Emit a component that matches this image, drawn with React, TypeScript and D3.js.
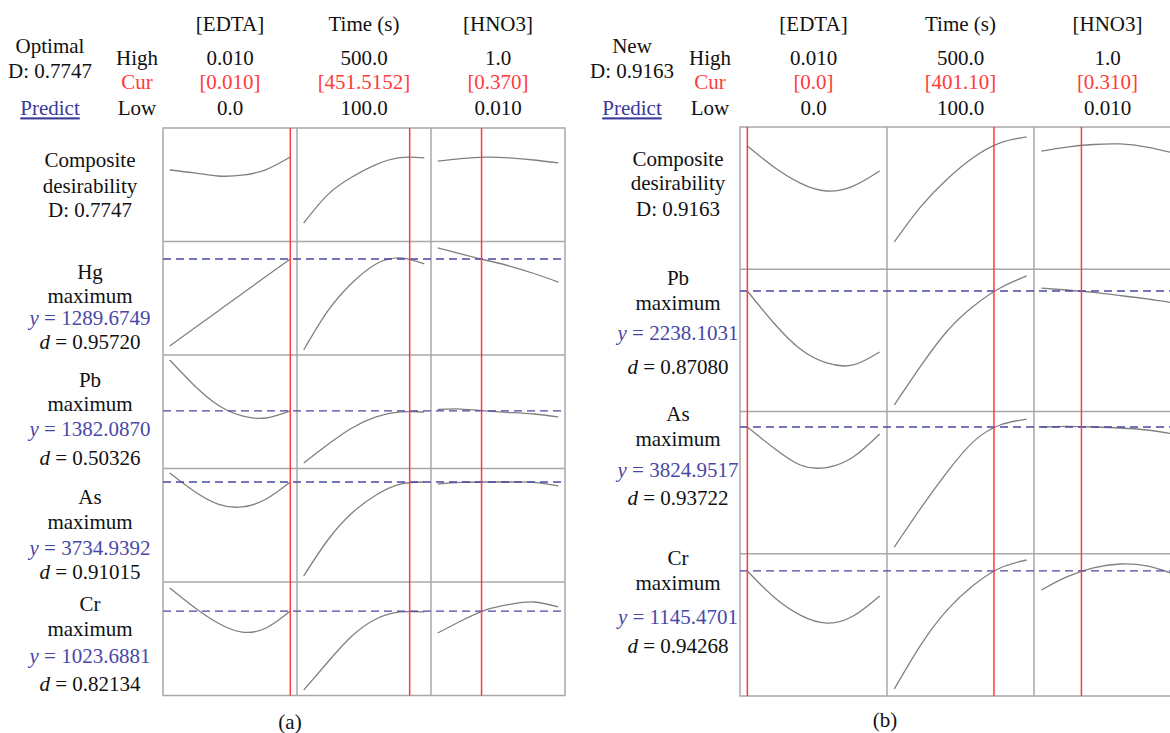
import React from "react";
import * as d3 from "d3";

// factors shared by both optimization plots
const factorNames = ["[EDTA]", "Time (s)", "[HNO3]"];
const highLabels = ["0.010", "500.0", "1.0"];
const lowLabels = ["0.0", "100.0", "0.010"];
const factorRanges = [
  [0, 0.01],
  [100, 500],
  [0.01, 1.0],
];
const factorSteps = [
  [0, 0.002, 0.004, 0.006, 0.008, 0.01],
  [100, 180, 260, 340, 420, 500],
  [0.01, 0.2, 0.4, 0.6, 0.8, 1.0],
];

// (a) optimal setting. curve heights are % of the row height (0 = bottom)
const curA = [0.01, 451.5152, 0.37];
const curLabelsA = ["[0.010]", "[451.5152]", "[0.370]"];
const responsesA = ["Hg", "Pb", "As", "Cr"];
const predictedA = ["1289.6749", "1382.0870", "3734.9392", "1023.6881"];
const desirA = ["0.95720", "0.50326", "0.91015", "0.82134"];
const compositeA = [
  [63.0, 60.4, 57.7, 58.4, 63.4, 74.4],
  [16.3, 41.3, 56.8, 67.8, 73.9, 73.6],
  [70.9, 73.1, 74.4, 73.7, 71.8, 69.2],
];
const hgA = [
  [7.9, 23.3, 38.6, 53.9, 69.3, 84.6],
  [4.4, 38.8, 63.4, 80.2, 85.5, 80.2],
  [94.3, 89.0, 83.7, 78.4, 71.8, 64.3],
];
const pbA = [
  [95.6, 73.6, 55.9, 46.3, 44.5, 50.7],
  [4.8, 21.1, 35.7, 45.4, 49.8, 49.8],
  [52.0, 52.4, 50.7, 49.3, 48.0, 45.4],
];
const asA = [
  [96.0, 80.2, 68.7, 66.1, 73.1, 88.1],
  [5.3, 37.0, 60.8, 76.7, 86.3, 88.1],
  [86.3, 87.7, 88.1, 88.1, 87.7, 84.6],
];
const crA = [
  [94.7, 78.0, 63.9, 55.9, 59.5, 74.4],
  [4.8, 29.5, 52.4, 67.4, 73.6, 73.6],
  [55.1, 65.6, 75.3, 80.2, 82.4, 78.0],
];
const levelsA = [84.6, 50.7, 88.1, 74.4];

// (b) new setting
const curB = [0.0, 401.1, 0.31];
const curLabelsB = ["[0.0]", "[401.10]", "[0.310]"];
const responsesB = ["Pb", "As", "Cr"];
const predictedB = ["2238.1031", "3824.9517", "1145.4701"];
const desirB = ["0.87080", "0.93722", "0.94268"];
const compositeB = [
  [86.6, 71.9, 60.6, 55.0, 58.5, 69.1],
  [19.2, 44.0, 63.5, 78.8, 88.9, 93.0],
  [83.1, 85.9, 87.7, 88.1, 85.9, 81.7],
];
const pbB = [
  [84.7, 62.2, 43.9, 34.1, 32.7, 41.8],
  [4.6, 32.0, 56.6, 74.2, 86.8, 95.3],
  [86.8, 85.4, 83.7, 81.5, 79.1, 76.3],
];
const asB = [
  [89.1, 74.3, 62.4, 60.6, 68.0, 84.2],
  [4.7, 32.0, 57.5, 79.0, 90.5, 94.7],
  [89.1, 89.5, 89.1, 88.4, 87.0, 84.2],
];
const crB = [
  [87.9, 69.6, 56.9, 51.3, 56.2, 70.3],
  [4.9, 35.9, 60.5, 78.0, 90.0, 95.6],
  [74.5, 83.7, 90.0, 92.8, 91.4, 85.8],
];
const levelsB = [84.7, 89.1, 87.9];

const panels = [
  {
    title: "Optimal",
    D: "0.7747",
    cur: curA,
    curLabels: curLabelsA,
    responses: responsesA,
    predicted: predictedA,
    desir: desirA,
    curves: [compositeA, hgA, pbA, asA, crA],
    levels: levelsA,
    tag: "(a)",
    layout: {
      left: 163,
      top: 128,
      colW: 134,
      rowH: 113.5,
      labelX: 90,
      titleX: 50,
      levelX: 137,
      labelYs: [
        [160, 186, 210],
        [272, 296, 318, 342],
        [380, 404, 429, 458],
        [497, 522, 548, 572],
        [604, 629, 656, 684],
      ],
      tagX: 290,
      tagY: 722,
    },
  },
  {
    title: "New",
    D: "0.9163",
    cur: curB,
    curLabels: curLabelsB,
    responses: responsesB,
    predicted: predictedB,
    desir: desirB,
    curves: [compositeB, pbB, asB, crB],
    levels: levelsB,
    tag: "(b)",
    layout: {
      left: 740,
      top: 127,
      colW: 147,
      rowH: 142.25,
      labelX: 678,
      titleX: 632,
      levelX: 710,
      labelYs: [
        [159, 183, 209],
        [278, 303, 333, 367],
        [414, 439, 470, 498],
        [558, 583, 617, 646],
      ],
      tagX: 885,
      tagY: 720,
    },
  },
];

const RED = "#ff3b3b";
const BLUE = "#4848a8";
const GRID = "#a8a8a8";
const CURVE = "#808080";

export default function App() {
  const ref = React.useRef<SVGSVGElement>(null);

  React.useEffect(() => {
    const svg = d3.select(ref.current);
    svg.selectAll("*").remove();
    panels.forEach((p) => drawPanel(svg, p));
  }, []);

  function drawPanel(svg: any, p: any) {
    const L = p.layout;
    const nRows = p.curves.length;
    const width = L.colW * 3;
    const bottom = L.top + nRows * L.rowH;
    const g = svg.append("g");

    const txt = (x: number, y: number, s: string, color = "#111") =>
      g
        .append("text")
        .attr("x", x)
        .attr("y", y)
        .attr("dy", "0.35em")
        .attr("text-anchor", "middle")
        .attr("fill", color)
        .text(s);

    // header
    txt(L.titleX, 46, p.title);
    txt(L.titleX, 71, "D: " + p.D);
    txt(L.titleX, 108, "Predict", "#3a3a9a").style("text-decoration", "underline");
    txt(L.levelX, 58, "High");
    txt(L.levelX, 82, "Cur", RED);
    txt(L.levelX, 108, "Low");

    const xs = factorRanges.map((dom, j) => {
      const pad = L.colW * 0.05;
      return d3
        .scaleLinear()
        .domain(dom)
        .range([L.left + j * L.colW + pad, L.left + (j + 1) * L.colW - pad]);
    });

    factorNames.forEach((name, j) => {
      const cx = L.left + j * L.colW + L.colW / 2;
      txt(cx, 24, name);
      txt(cx, 58, highLabels[j]);
      txt(cx, 82, p.curLabels[j], RED);
      txt(cx, 108, lowLabels[j]);
    });

    // grid
    g.append("rect")
      .attr("x", L.left)
      .attr("y", L.top)
      .attr("width", width)
      .attr("height", nRows * L.rowH)
      .attr("fill", "none")
      .attr("stroke", GRID)
      .attr("stroke-width", 1.5);
    for (let i = 1; i < nRows; i++) {
      g.append("line")
        .attr("x1", L.left)
        .attr("x2", L.left + width)
        .attr("y1", L.top + i * L.rowH)
        .attr("y2", L.top + i * L.rowH)
        .attr("stroke", GRID)
        .attr("stroke-width", 1.5);
    }
    for (let j = 1; j < 3; j++) {
      g.append("line")
        .attr("x1", L.left + j * L.colW)
        .attr("x2", L.left + j * L.colW)
        .attr("y1", L.top)
        .attr("y2", bottom)
        .attr("stroke", GRID)
        .attr("stroke-width", 1.5);
    }

    p.curves.forEach((rowCurves: number[][], i: number) => {
      const y = d3
        .scaleLinear()
        .domain([0, 100])
        .range([L.top + (i + 1) * L.rowH, L.top + i * L.rowH]);

      rowCurves.forEach((vals, j) => {
        const line = d3
          .line<number>()
          .x((d, k) => xs[j](factorSteps[j][k]))
          .y((d) => y(d))
          .curve(d3.curveNatural);
        g.append("path")
          .attr("d", line(vals))
          .attr("fill", "none")
          .attr("stroke", CURVE)
          .attr("stroke-width", 1.3);
      });

      // labels on the left
      const ly = L.labelYs[i];
      if (i === 0) {
        txt(L.labelX, ly[0], "Composite");
        txt(L.labelX, ly[1], "desirability");
        txt(L.labelX, ly[2], "D: " + p.D);
      } else {
        const r = i - 1;
        txt(L.labelX, ly[0], p.responses[r]);
        txt(L.labelX, ly[1], "maximum");
        const t1 = txt(L.labelX, ly[2], "", BLUE);
        t1.append("tspan").attr("font-style", "italic").text("y");
        t1.append("tspan").text(" = " + p.predicted[r]);
        const t2 = txt(L.labelX, ly[3], "");
        t2.append("tspan").attr("font-style", "italic").text("d");
        t2.append("tspan").text(" = " + p.desir[r]);

        g.append("line")
          .attr("x1", L.left)
          .attr("x2", L.left + width)
          .attr("y1", y(p.levels[r]))
          .attr("y2", y(p.levels[r]))
          .attr("stroke", BLUE)
          .attr("stroke-width", 1.3)
          .attr("stroke-dasharray", "8,5");
      }
    });

    // current settings
    p.cur.forEach((c: number, j: number) => {
      g.append("line")
        .attr("x1", xs[j](c))
        .attr("x2", xs[j](c))
        .attr("y1", L.top)
        .attr("y2", bottom)
        .attr("stroke", RED)
        .attr("stroke-width", 1.5);
    });

    txt(L.tagX, L.tagY, p.tag);
  }

  return (
    <svg
      ref={ref}
      width={1170}
      height={733}
      style={{
        position: "absolute",
        left: 0,
        top: 0,
        background: "#fff",
        fontFamily: "'Liberation Serif', 'DejaVu Serif', serif",
        fontSize: 21,
      }}
    />
  );
}
